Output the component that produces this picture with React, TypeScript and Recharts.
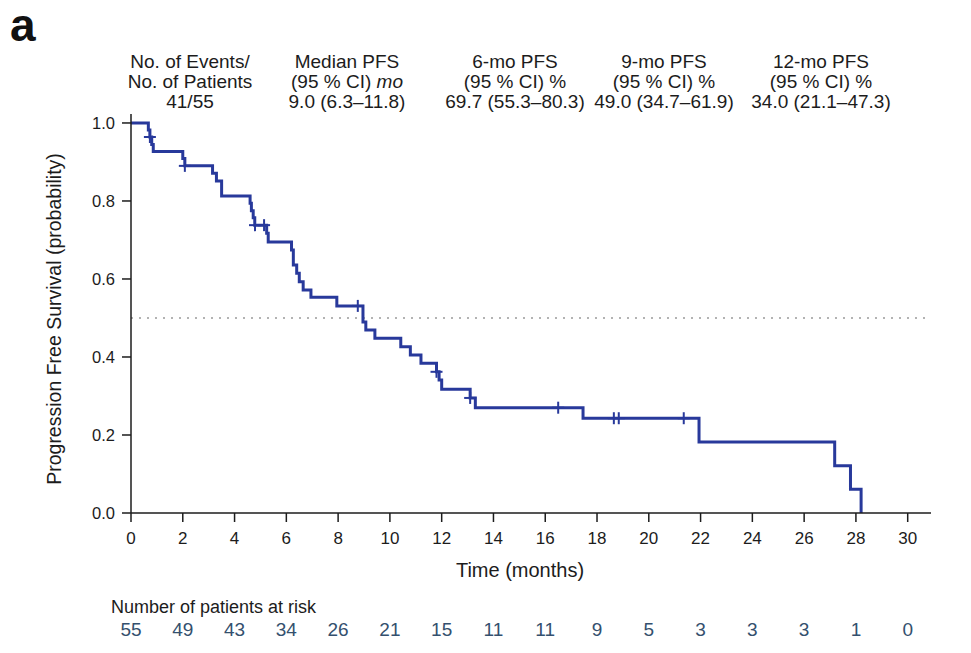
import { Line, LineChart, ReferenceLine, XAxis, YAxis } from "recharts";

// Kaplan-Meier steps (month, survival after drop)
const kmTimes = [
  0, 0.67, 0.73, 0.8, 0.86, 2.0, 2.08, 3.15, 3.3, 3.5, 4.6, 4.65, 4.72, 4.78,
  5.24, 5.3, 6.2, 6.27, 6.4, 6.5, 6.65, 6.95, 7.95, 8.96, 9.07, 9.42, 10.42,
  10.79, 11.2, 11.8, 11.9, 12.0, 13.1, 13.3, 17.46, 21.94, 27.18, 27.79, 28.2,
];
const kmSurv = [
  1.0, 0.982, 0.964, 0.945, 0.927, 0.909, 0.89, 0.871, 0.851, 0.813, 0.794,
  0.775, 0.757, 0.738, 0.717, 0.695, 0.674, 0.636, 0.615, 0.593, 0.572, 0.553,
  0.531, 0.49, 0.469, 0.448, 0.426, 0.405, 0.384, 0.362, 0.341, 0.317, 0.295,
  0.27, 0.243, 0.182, 0.121, 0.061, 0.0,
];

// censored observations
const censorTimes = [0.73, 2.08, 4.79, 5.14, 8.76, 11.8, 13.1, 16.5, 18.65, 18.84, 21.35];
const censorSurv = [0.964, 0.89, 0.738, 0.738, 0.531, 0.362, 0.295, 0.27, 0.243, 0.243, 0.243];

const xTicks = [0, 2, 4, 6, 8, 10, 12, 14, 16, 18, 20, 22, 24, 26, 28, 30];
const yTicks = [0, 0.2, 0.4, 0.6, 0.8, 1.0];
const riskCounts = [55, 49, 43, 34, 26, 21, 15, 11, 11, 9, 5, 3, 3, 3, 1, 0];

const headerCols = [
  { center: 190, lines: ["No. of Events/", "No. of Patients", "41/55"] },
  { center: 347, lines: ["Median PFS", "(95 % CI) mo", "9.0 (6.3–11.8)"] },
  { center: 515, lines: ["6-mo PFS", "(95 % CI) %", "69.7 (55.3–80.3)"] },
  { center: 664, lines: ["9-mo PFS", "(95 % CI) %", "49.0 (34.7–61.9)"] },
  { center: 821, lines: ["12-mo PFS", "(95 % CI) %", "34.0 (21.1–47.3)"] },
];

const curve = kmTimes.map((t, i) => ({ t, s: kmSurv[i] }));
const censors = censorTimes.map((t, i) => ({ t, s: censorSurv[i] }));
const riskRows = xTicks.map((t, i) => ({ t, n: riskCounts[i] }));

const BLUE = "#28399b";
const INK = "#1c1c1c";
const FONT = "'Liberation Sans', Arial, sans-serif";

const CensorMark = (props: any) => {
  const { cx, cy, index } = props;
  if (cx == null || cy == null) return <g key={`c-${index}`} />;
  return (
    <g key={`c-${index}`}>
      <line x1={cx - 6} x2={cx + 6} y1={cy} y2={cy} stroke={BLUE} strokeWidth={2} />
      <line x1={cx} x2={cx} y1={cy - 6} y2={cy + 6} stroke={BLUE} strokeWidth={2} />
    </g>
  );
};

const renderHeaderLine = (text: string) => {
  if (text.endsWith(" mo")) {
    return (
      <>
        {text.slice(0, -2)}
        <i>mo</i>
      </>
    );
  }
  return text;
};

export default function App() {
  return (
    <div
      style={{
        position: "absolute",
        left: 0,
        top: 0,
        width: 971,
        height: 653,
        background: "#fff",
        fontFamily: FONT,
        color: INK,
      }}
    >
      <div
        style={{
          position: "absolute",
          left: 10,
          top: 2,
          fontSize: 46,
          lineHeight: "46px",
          fontWeight: 700,
          color: "#111",
        }}
      >
        a
      </div>

      {headerCols.map((col) => (
        <div
          key={col.center}
          style={{
            position: "absolute",
            left: col.center - 100,
            top: 52,
            width: 200,
            textAlign: "center",
            fontSize: 19,
            lineHeight: "20px",
            whiteSpace: "nowrap",
          }}
        >
          {col.lines.map((l) => (
            <div key={l}>{renderHeaderLine(l)}</div>
          ))}
        </div>
      ))}

      <LineChart
        width={971}
        height={653}
        margin={{ top: 114, right: 40, left: 0, bottom: 0 }}
        style={{ position: "absolute", left: 0, top: 0 }}
      >
        <XAxis
          dataKey="t"
          type="number"
          domain={[0, 30.9]}
          ticks={xTicks}
          height={100}
          tickSize={9}
          tickMargin={10}
          axisLine={{ stroke: INK, strokeWidth: 1.5 }}
          tickLine={{ stroke: INK, strokeWidth: 1.5 }}
          tick={{ fill: INK, fontSize: 17, fontFamily: FONT }}
          interval={0}
        />
        <XAxis
          xAxisId="risk"
          dataKey="t"
          type="number"
          domain={[0, 30.9]}
          ticks={xTicks}
          height={40}
          tickSize={0}
          tickMargin={10}
          axisLine={false}
          tickLine={false}
          tick={{ fill: "#34506e", fontSize: 19, fontFamily: FONT }}
          tickFormatter={(v: number) => String(riskCounts[xTicks.indexOf(v)] ?? "")}
          interval={0}
        />
        <YAxis
          type="number"
          domain={[0, 1.023]}
          ticks={yTicks}
          width={131}
          tickSize={9}
          tickMargin={7}
          axisLine={{ stroke: INK, strokeWidth: 1.5 }}
          tickLine={{ stroke: INK, strokeWidth: 1.5 }}
          tick={{ fill: INK, fontSize: 16.5, fontFamily: FONT }}
          tickFormatter={(v: number) => v.toFixed(1)}
          allowDataOverflow
        />
        <YAxis yAxisId="risk" hide domain={[0, 60]} />
        <ReferenceLine
          y={0.5}
          stroke="#9a9a9a"
          strokeWidth={1.5}
          strokeDasharray="2 6"
        />
        <Line
          data={riskRows}
          xAxisId="risk"
          yAxisId="risk"
          dataKey="n"
          stroke="none"
          dot={false}
          activeDot={false}
          isAnimationActive={false}
        />
        <Line
          data={curve}
          dataKey="s"
          type="stepAfter"
          stroke={BLUE}
          strokeWidth={3}
          dot={false}
          activeDot={false}
          isAnimationActive={false}
        />
        <Line
          data={censors}
          dataKey="s"
          stroke="none"
          dot={CensorMark}
          activeDot={false}
          isAnimationActive={false}
        />
      </LineChart>

      <div
        style={{
          position: "absolute",
          left: 54 - 200,
          top: 319 - 11,
          width: 400,
          height: 22,
          lineHeight: "22px",
          textAlign: "center",
          fontSize: 19.5,
          transform: "rotate(-90deg)",
          whiteSpace: "nowrap",
        }}
      >
        Progression Free Survival (probability)
      </div>

      <div
        style={{
          position: "absolute",
          left: 520 - 150,
          top: 560,
          width: 300,
          textAlign: "center",
          fontSize: 20,
          lineHeight: "20px",
        }}
      >
        Time (months)
      </div>

      <div
        style={{
          position: "absolute",
          left: 111,
          top: 598,
          fontSize: 18,
          lineHeight: "18px",
          whiteSpace: "nowrap",
        }}
      >
        Number of patients at risk
      </div>
    </div>
  );
}
